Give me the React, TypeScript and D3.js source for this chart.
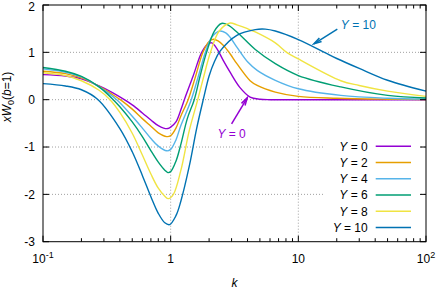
import React from 'react';
import * as d3 from 'd3';

const W = 436;
const H = 288;

const seriesY = ['0', '2', '4', '6', '8', '10'];
const colors = ['#9400d3', '#e69f00', '#56b4e9', '#009e73', '#f0e442', '#0072b2'];

const kY0 = [0.1, 0.15, 0.2, 0.275, 0.35, 0.44, 0.5, 0.6, 0.7, 0.8, 0.88, 0.95, 1.0, 1.1, 1.2, 1.3, 1.5, 1.75, 1.95, 2.1, 2.3, 2.58, 2.92, 3.48, 4.19, 5, 6, 10, 100];
const vY0 = [0.53, 0.5, 0.44, 0.29, 0.15, -0.01, -0.11, -0.28, -0.43, -0.55, -0.6, -0.61, -0.58, -0.47, -0.22, 0.05, 0.5, 1.0, 1.17, 1.2, 1.08, 0.83, 0.58, 0.26, 0.055, 0.01, 0, 0, 0];

const kY2 = [0.1, 0.15, 0.2, 0.275, 0.35, 0.413, 0.5, 0.6, 0.7, 0.8, 0.93, 1.0, 1.1, 1.2, 1.37, 1.55, 1.79, 2.0, 2.16, 2.35, 2.58, 2.92, 3.3, 4.19, 4.76, 6.6, 10, 20, 50, 100];
const vY2 = [0.6, 0.55, 0.46, 0.28, 0.11, -0.02, -0.2, -0.4, -0.56, -0.7, -0.78, -0.76, -0.6, -0.35, 0, 0.45, 1.0, 1.23, 1.275, 1.24, 1.15, 0.97, 0.76, 0.4, 0.3, 0.16, 0.07, 0.03, 0.01, 0.004];

const kY4 = [0.1, 0.15, 0.2, 0.275, 0.378, 0.5, 0.6, 0.7, 0.8, 0.93, 1.0, 1.1, 1.2, 1.45, 1.65, 1.87, 2.1, 2.43, 2.7, 2.92, 3.3, 4.0, 4.76, 6.6, 10, 21.5, 50, 100];
const vY4 = [0.65, 0.58, 0.48, 0.27, 0, -0.35, -0.6, -0.82, -0.98, -1.08, -1.05, -0.85, -0.55, 0, 0.5, 1.0, 1.32, 1.45, 1.41, 1.32, 1.11, 0.8, 0.62, 0.41, 0.23, 0.09, 0.03, 0.013];

const kY6 = [0.1, 0.15, 0.2, 0.275, 0.355, 0.4, 0.5, 0.6, 0.69, 0.8, 0.9, 0.95, 1.0, 1.1, 1.2, 1.35, 1.53, 1.7, 1.91, 2.2, 2.5, 2.8, 3.3, 4.6, 6.6, 10, 21.5, 50, 100];
const vY6 = [0.68, 0.6, 0.49, 0.27, 0, -0.15, -0.47, -0.78, -1.05, -1.32, -1.49, -1.54, -1.52, -1.3, -0.95, -0.4, 0, 0.5, 1.0, 1.45, 1.61, 1.58, 1.43, 1.06, 0.76, 0.51, 0.27, 0.09, 0.035];

const kY8 = [0.1, 0.15, 0.2, 0.275, 0.335, 0.4, 0.5, 0.6, 0.7, 0.8, 0.9, 0.96, 1.05, 1.2, 1.4, 1.63, 1.8, 2.05, 2.4, 2.92, 3.3, 4.0, 4.6, 6.6, 8.1, 10, 21.5, 30, 50, 100];
const vY8 = [0.57, 0.51, 0.4, 0.2, 0, -0.27, -0.71, -1.17, -1.57, -1.87, -2.04, -2.09, -2.0, -1.5, -0.65, 0, 0.45, 1.0, 1.45, 1.62, 1.58, 1.5, 1.43, 1.2, 1.0, 0.86, 0.4, 0.3, 0.18, 0.07];

const kY10 = [0.1, 0.15, 0.2, 0.27, 0.4, 0.5, 0.6, 0.7, 0.8, 0.9, 0.98, 1.1, 1.2, 1.4, 1.6, 1.8, 2.0, 2.2, 2.43, 3.3, 4.6, 5.5, 6.6, 10, 16, 20, 30, 50, 100];
const vY10 = [0.34, 0.29, 0.21, 0, -0.61, -1.1, -1.6, -2.05, -2.4, -2.6, -2.64, -2.45, -2.15, -1.4, -0.6, 0, 0.5, 0.8, 1.02, 1.36, 1.48, 1.49, 1.45, 1.27, 1.0, 0.87, 0.66, 0.41, 0.18];

const seriesK = [kY0, kY2, kY4, kY6, kY8, kY10];
const seriesV = [vY0, vY2, vY4, vY6, vY8, vY10];

const yTicks = [-3, -2, -1, 0, 1, 2];
const xDecades = [0.1, 1, 10, 100];
const xTickLabels = [['10', '-1'], ['1', ''], ['10', ''], ['10', '2']];

// annotations in data coords: [tailK, tailV, tipK, tipV]
const annY10 = [20.2, 1.49, 13.25, 1.18];
const annY0 = [3.0, -0.51, 3.98, 0.04];

const FONT = '"Liberation Sans", Arial, Helvetica, sans-serif';

function Arrow({ x1, y1, x2, y2, color }: { x1: number; y1: number; x2: number; y2: number; color: string }) {
  const ang = Math.atan2(y2 - y1, x2 - x1);
  const L = 8;
  const a = (15 * Math.PI) / 180;
  const p1 = [x2 - L * Math.cos(ang - a), y2 - L * Math.sin(ang - a)];
  const p2 = [x2 - L * Math.cos(ang + a), y2 - L * Math.sin(ang + a)];
  return (
    <g stroke={color} strokeWidth={1.5} fill="none">
      <line x1={x1} y1={y1} x2={x2} y2={y2} />
      <polyline points={`${p1[0]},${p1[1]} ${x2},${y2} ${p2[0]},${p2[1]}`} />
    </g>
  );
}

export default function App() {
  const x = d3.scaleLog().domain([0.1, 100]).range([43, 426]);
  const y = d3.scaleLinear().domain([-3, 2]).range([241.7, 5]);
  const line = d3
    .line<[number, number]>()
    .x((d) => x(d[0]))
    .y((d) => y(d[1]))
    .curve(d3.curveCatmullRom.alpha(0.5));

  const [x0, x1] = x.range();
  const [yb, yt] = y.range();

  const minor: number[] = [];
  [0.1, 1, 10].forEach((d) => {
    for (let m = 2; m <= 9; m++) minor.push(d * m);
  });

  const legendRows = seriesY.map((s, i) => ({ s, i, cy: 146.2 + i * 16.25 }));

  return (
    <svg width={W} height={H} style={{ position: 'absolute', left: 0, top: 0, background: '#fff' }} fontFamily={FONT} fontSize={12}>
      <rect x={0} y={0} width={W} height={H} fill="#fff" />
      {/* grid */}
      <g stroke="#a0a0a0" strokeWidth={1} strokeDasharray="1,2">
        {yTicks.filter((t) => t > -3 && t < 2).map((t) => (
          <line key={'gy' + t} x1={x0} x2={x1} y1={y(t)} y2={y(t)} />
        ))}
        {xDecades.filter((t) => t > 0.1 && t < 100).map((t) => (
          <line key={'gx' + t} x1={x(t)} x2={x(t)} y1={yb} y2={yt} />
        ))}
      </g>
      {/* legend background */}
      <rect x={325} y={137} width={96} height={100} fill="#fff" />
      {/* curves */}
      <g fill="none" strokeWidth={1.4}>
        {seriesK.map((ks, i) => (
          <path key={i} d={line(ks.map((k, j) => [k, seriesV[i][j]]) as [number, number][]) || ''} stroke={colors[i]} />
        ))}
      </g>
      {/* border */}
      <rect x={x0} y={yt} width={x1 - x0} height={yb - yt} fill="none" stroke="#000" strokeWidth={1} />
      {/* ticks */}
      <g stroke="#000" strokeWidth={1}>
        {yTicks.map((t) => (
          <g key={'ty' + t}>
            <line x1={x0} x2={x0 + 6} y1={y(t)} y2={y(t)} />
            <line x1={x1} x2={x1 - 6} y1={y(t)} y2={y(t)} />
          </g>
        ))}
        {xDecades.map((t) => (
          <g key={'tx' + t}>
            <line x1={x(t)} x2={x(t)} y1={yb} y2={yb - 6} />
            <line x1={x(t)} x2={x(t)} y1={yt} y2={yt + 6} />
          </g>
        ))}
        {minor.map((t) => (
          <g key={'tm' + t}>
            <line x1={x(t)} x2={x(t)} y1={yb} y2={yb - 3.5} />
            <line x1={x(t)} x2={x(t)} y1={yt} y2={yt + 3.5} />
          </g>
        ))}
      </g>
      {/* y tick labels */}
      <g textAnchor="end" fill="#000">
        {yTicks.map((t) => (
          <text key={'yl' + t} x={35} y={Math.max(y(t) + 4.3, 10.5)}>
            {String(t)}
          </text>
        ))}
      </g>
      {/* x tick labels */}
      <g textAnchor="middle" fill="#000">
        {xDecades.map((t, i) => (
          <text key={'xl' + t} x={x(t)} y={262.5}>
            {xTickLabels[i][0]}
            {xTickLabels[i][1] ? (
              <tspan fontSize={9} dy={-5}>
                {xTickLabels[i][1]}
              </tspan>
            ) : null}
          </text>
        ))}
      </g>
      {/* axis titles */}
      <text x={(x0 + x1) / 2} y={286.5} textAnchor="middle" fontStyle="italic">
        k
      </text>
      <text transform="translate(11,97) rotate(-90)" textAnchor="middle">
        <tspan fontStyle="italic">xW</tspan>
        <tspan fontSize={9} dy={3}>0</tspan>
        <tspan dy={-3}>(</tspan>
        <tspan fontStyle="italic">b</tspan>
        <tspan>=1)</tspan>
      </text>
      {/* legend */}
      {legendRows.map(({ s, i, cy }) => (
        <g key={'lg' + i}>
          <text x={367.7} y={cy + 4.3} textAnchor="end">
            <tspan fontStyle="italic">Y</tspan> = {s}
          </text>
          <line x1={375.7} x2={411} y1={cy} y2={cy} stroke={colors[i]} strokeWidth={1.4} />
        </g>
      ))}
      {/* annotations */}
      <Arrow x1={x(annY10[0])} y1={y(annY10[1])} x2={x(annY10[2])} y2={y(annY10[3])} color={colors[5]} />
      <text x={x(annY10[0]) + 3.5} y={29} fill={colors[5]}>
        <tspan fontStyle="italic">Y</tspan> = 10
      </text>
      <Arrow x1={x(annY0[0])} y1={y(annY0[1])} x2={x(annY0[2])} y2={y(annY0[3])} color={colors[0]} />
      <text x={x(annY0[0])} y={138.3} fill={colors[0]} textAnchor="middle">
        <tspan fontStyle="italic">Y</tspan> = 0
      </text>
    </svg>
  );
}
